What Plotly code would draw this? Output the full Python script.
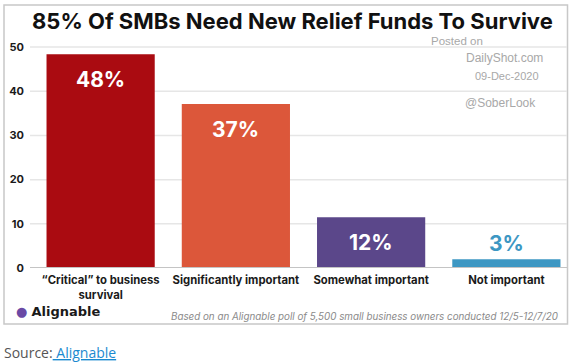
import plotly.graph_objects as go

categories = ["“Critical” to business<br>survival", "Significantly important", "Somewhat important", "Not important"]
values = [48.4, 37.1, 11.5, 2.0]
value_labels = ["48%", "37%", "12%", "3%"]
bar_colors = ["#aa0b11", "#dc573a", "#5b478a", "#3d97c3"]
tick_vals = [0, 10, 20, 30, 40, 50]

W, H = 574, 364
L, R, T, B = 33, 0, 40, 96
PW, PH = W - L - R, H - T - B


def px(x):
    return (x - L) / PW


def py(y):
    return (H - B - y) / PH


fig = go.Figure()
fig.add_trace(go.Bar(
    x=list(range(len(categories))), y=values,
    marker=dict(color=bar_colors, line=dict(width=0)),
    hoverinfo="skip",
))

FONT = "Inter"
ann = []
# title
ann.append(dict(x=px(292), y=py(21), xref="paper", yref="paper", showarrow=False,
                text="<b>85% Of SMBs Need New Relief Funds To Survive</b>",
                font=dict(family=FONT, size=22, color="#111111"), xanchor="center", yanchor="middle"))
# value labels
for i, (v, t) in enumerate(zip(values, value_labels)):
    inside = v > 6
    ann.append(dict(x=i, y=v, xref="x", yref="y", showarrow=False, text="<b>" + t + "</b>",
                    font=dict(family=FONT, size=21, color="white" if inside else bar_colors[i]),
                    xanchor="center", yanchor="middle", yshift=-25 if inside else 16))
# watermark
for txt, cx, cy, fs in [("Posted on", 457, 41, 11.5), ("DailyShot.com", 504, 58, 12),
                        ("09-Dec-2020", 507, 76, 11), ("@SoberLook", 500, 103, 12)]:
    ann.append(dict(x=px(cx), y=py(cy), xref="paper", yref="paper", showarrow=False, text=txt,
                    font=dict(family="Liberation Sans", size=fs, color="#a8a8a8"),
                    xanchor="center", yanchor="middle"))
# logo
ann.append(dict(x=px(14), y=py(311), xref="paper", yref="paper", showarrow=False,
                text="<span style='color:#6a4aa5'>●</span> <b>Alignable</b>",
                font=dict(family="DejaVu Sans", size=13, color="#1a1a1a"), xanchor="left", yanchor="middle"))
# footnote
ann.append(dict(x=px(561), y=py(316), xref="paper", yref="paper", showarrow=False,
                text="<i>Based on an Alignable poll of 5,500 small business owners conducted 12/5-12/7/20</i>",
                font=dict(family=FONT, size=9.8, color="#8a8a8a"), xanchor="right", yanchor="middle"))
# source
ann.append(dict(x=px(2), y=py(352), xref="paper", yref="paper", showarrow=False,
                text="Source:<span style='color:#1b8ad0;text-decoration:underline'> Alignable</span>",
                font=dict(family="Open Sans", size=14, color="#555555"), xanchor="left", yanchor="middle"))

shapes = []
# frame
shapes.append(dict(type="rect", xref="paper", yref="paper", x0=px(4), x1=px(567.5), y0=py(324), y1=py(5),
                   line=dict(color="#c8c8c8", width=1.5), fillcolor="rgba(0,0,0,0)", layer="below"))
# gridlines
for v in tick_vals[1:]:
    shapes.append(dict(type="line", xref="paper", yref="y", x0=px(30), x1=px(567), y0=v, y1=v,
                       line=dict(color="#e6e6e6", width=1.5), layer="below"))
shapes.append(dict(type="line", xref="paper", yref="y", x0=px(30), x1=px(567), y0=0, y1=0,
                   line=dict(color="#c4c4c4", width=2), layer="above"))

fig.update_layout(
    width=W, height=H, margin=dict(l=L, r=R, t=T, b=B),
    paper_bgcolor="white", plot_bgcolor="rgba(0,0,0,0)",
    bargap=0.2, showlegend=False,
    annotations=ann, shapes=shapes,
    xaxis=dict(tickmode="array", tickvals=list(range(len(categories))), ticktext=categories,
               range=[-0.5, 3.5], showgrid=False, zeroline=False, showline=False, ticks="",
               ticklabelstandoff=4,
               tickfont=dict(family=FONT, size=11.3, color="#1a1a1a", weight="bold"), fixedrange=True),
    yaxis=dict(range=[0, 51.6], tickvals=tick_vals, showgrid=False, zeroline=False, showline=False,
               ticks="", ticklabelstandoff=8,
               tickfont=dict(family=FONT, size=11, color="#1a1a1a", weight="bold"), fixedrange=True),
)

fig.write_html("out.html", config={"displayModeBar": False},
               post_script="document.body.style.margin='0';document.body.style.overflow='hidden';")
